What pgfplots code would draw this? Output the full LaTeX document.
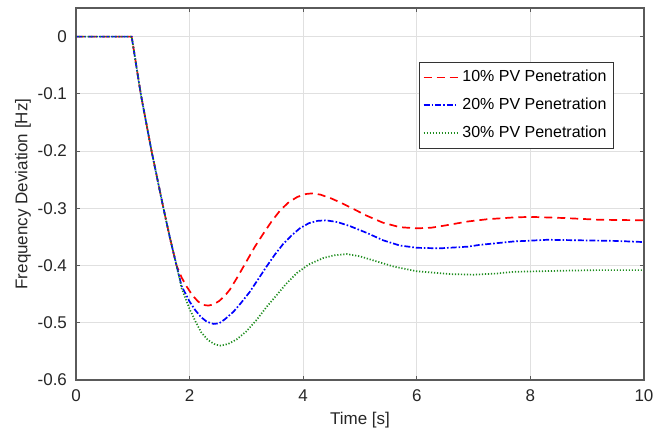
\documentclass[border=0pt]{standalone}
\usepackage{fontspec}
\setmainfont{Liberation Sans}
\usepackage{pgfplots}
\pgfplotsset{compat=1.18}
\definecolor{mgreen}{RGB}{30,140,30}
\definecolor{axgray}{RGB}{90,90,90}
\pgfplotsset{
  legred/.style={legend image code/.code={\pgfsetcolor{red}\draw[##1] (0pt,0pt) -- (17pt,0pt);}},
  legblue/.style={legend image code/.code={\pgfsetcolor{blue}\draw[##1] (0pt,0pt) -- (17pt,0pt);}},
  leggreen/.style={legend image code/.code={\pgfsetcolor{mgreen}\draw[##1] (0pt,0pt) -- (17pt,0pt);}},
}

\begin{document}
\begin{tikzpicture}
\begin{axis}[
  name=ax,
  scale only axis,
  width=284pt, height=186pt,
  xmin=0, xmax=10, ymin=-0.6, ymax=0.05,
  xtick={0,2,4,6,8,10},
  xticklabels={0,2,4,6,8,10},
  ytick={-0.6,-0.5,-0.4,-0.3,-0.2,-0.1,0},
  yticklabels={-0.6,-0.5,-0.4,-0.3,-0.2,-0.1,0},
  tick align=inside, major tick length=2pt,
  tick style={axgray, line width=0.4pt},
  axis line style={axgray, line width=0.6pt},
  grid=major, grid style={black!12, line width=0.4pt},
  tick label style={font=\fontsize{8.5}{10}\selectfont, text=black!85},
  xticklabel style={yshift=-1.5pt},
  yticklabel style={xshift=-1pt},
  xlabel={Time [s]}, ylabel={Frequency Deviation [Hz]},
  label style={font=\fontsize{8.5}{10}\selectfont, text=black!85},
  xlabel style={at={(axis description cs:0.5,-0.1075)}, anchor=center},
  ylabel style={at={(axis description cs:-0.0933,0.5)}, anchor=center},
  legend style={at={(rel axis cs:0.947,0.855)}, anchor=north east,
    font=\fontsize{8}{9.5}\selectfont, draw=black!80, fill=white,
    inner xsep=1.5pt, inner ysep=2pt, row sep=2.5pt},
  legend cell align=left,
  every axis plot/.append style={line width=0.85pt, line cap=butt},
]
\addplot[draw=red, dash pattern=on 4pt off 2.5pt, legred] coordinates {
(0,0) (0.98,0) (1.06,-0.05) (1.14,-0.1) (1.235,-0.15) (1.33,-0.2) (1.435,-0.25)
(1.54,-0.3) (1.65,-0.35) (1.77,-0.4) (1.86,-0.421) (1.95,-0.437) (2.05,-0.452)
(2.15,-0.463) (2.25,-0.469) (2.33,-0.470) (2.42,-0.468) (2.52,-0.462) (2.62,-0.453)
(2.71,-0.442) (2.85,-0.419) (3.0,-0.393) (3.15,-0.367) (3.3,-0.344) (3.45,-0.322)
(3.6,-0.303) (3.75,-0.289) (3.9,-0.280) (4.05,-0.275) (4.15,-0.274) (4.3,-0.276)
(4.5,-0.283) (4.7,-0.292) (4.9,-0.302) (5.12,-0.313) (5.4,-0.325) (5.7,-0.333)
(6.0,-0.335) (6.25,-0.334) (6.5,-0.330) (6.9,-0.323) (7.25,-0.319) (7.7,-0.316)
(8.0,-0.315) (8.6,-0.317) (9.2,-0.320) (10,-0.321)};
\addlegendentry{10\% PV Penetration}
\addplot[draw=blue, dash pattern=on 3pt off 1pt on 0.8pt off 1pt, legblue] coordinates {
(0,0) (0.98,0) (1.06,-0.05) (1.14,-0.1) (1.235,-0.15) (1.33,-0.2) (1.435,-0.25)
(1.54,-0.3) (1.65,-0.35) (1.77,-0.4) (1.86,-0.436) (2.0,-0.463) (2.1,-0.478)
(2.2,-0.490) (2.3,-0.498) (2.42,-0.502) (2.52,-0.501) (2.62,-0.494) (2.77,-0.481)
(2.9,-0.466) (3.06,-0.446) (3.2,-0.425) (3.36,-0.401) (3.5,-0.381) (3.65,-0.362)
(3.8,-0.347) (3.94,-0.335) (4.1,-0.326) (4.25,-0.322) (4.4,-0.321) (4.6,-0.324)
(4.82,-0.331) (5.12,-0.343) (5.41,-0.356) (5.7,-0.365) (6.0,-0.369) (6.4,-0.370)
(6.9,-0.367) (7.1,-0.364) (7.7,-0.358) (8.3,-0.355) (8.9,-0.356) (9.5,-0.357)
(10,-0.359)};
\addlegendentry{20\% PV Penetration}
\addplot[draw=mgreen, dash pattern=on 0.6pt off 0.9pt, leggreen] coordinates {
(0,0) (0.98,0) (1.06,-0.05) (1.14,-0.1) (1.235,-0.15) (1.33,-0.2) (1.435,-0.25)
(1.54,-0.3) (1.65,-0.35) (1.77,-0.4) (1.86,-0.44) (2.0,-0.476) (2.1,-0.497)
(2.2,-0.516) (2.32,-0.530) (2.45,-0.538) (2.55,-0.540) (2.68,-0.537) (2.83,-0.529)
(3.0,-0.515) (3.18,-0.495) (3.35,-0.473) (3.53,-0.452) (3.7,-0.432) (3.89,-0.413)
(4.1,-0.398) (4.35,-0.387) (4.55,-0.382) (4.77,-0.380) (5.0,-0.384) (5.2,-0.390)
(5.6,-0.402) (6.0,-0.410) (6.6,-0.415) (7.0,-0.416) (7.4,-0.414) (7.7,-0.411)
(8.6,-0.409) (9.2,-0.408) (10,-0.408)};
\addlegendentry{30\% PV Penetration}
\end{axis}
\pgfresetboundingbox
\path (ax.south west) ++(-38pt,-28.5pt) rectangle ++(335.5pt,218.5pt);
\end{tikzpicture}
\end{document}
